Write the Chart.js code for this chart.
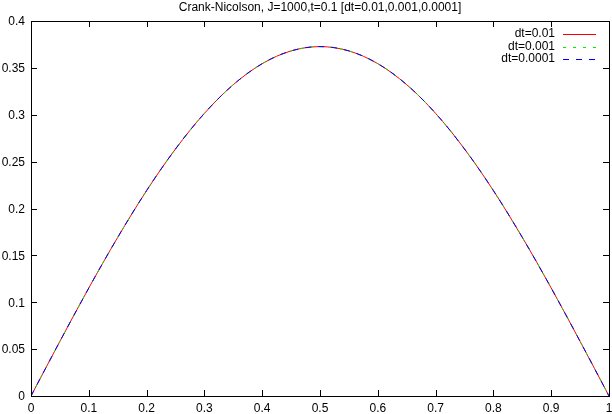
<!DOCTYPE html>
<html>
<head>
<meta charset="utf-8">
<script src="https://cdn.jsdelivr.net/npm/chart.js@4/dist/chart.umd.min.js"></script>
<style>
  html, body { margin: 0; padding: 0; background: #fff; }
  #wrap { width: 612px; height: 414px; }
</style>
</head>
<body>
<div id="wrap"><canvas id="cnChart" width="612" height="414"></canvas></div>
<script>
// --- data ---
const titleText = 'Crank-Nicolson, J=1000,t=0.1 [dt=0.01,0.001,0.0001]';
const xs = [0, 0.05, 0.1, 0.15, 0.2, 0.25, 0.3, 0.35, 0.4, 0.45, 0.5,
            0.55, 0.6, 0.65, 0.7, 0.75, 0.8, 0.85, 0.9, 0.95, 1];
const u_dt01 = [0, 0.0583, 0.1152, 0.1692, 0.2191, 0.2635, 0.3015, 0.3321, 0.3545, 0.3681, 0.3727,
                0.3681, 0.3545, 0.3321, 0.3015, 0.2635, 0.2191, 0.1692, 0.1152, 0.0583, 0];
const u_dt001 = [0, 0.0583, 0.1152, 0.1692, 0.2191, 0.2635, 0.3015, 0.3321, 0.3545, 0.3681, 0.3727,
                 0.3681, 0.3545, 0.3321, 0.3015, 0.2635, 0.2191, 0.1692, 0.1152, 0.0583, 0];
const u_dt0001 = [0, 0.0583, 0.1152, 0.1692, 0.2191, 0.2635, 0.3015, 0.3321, 0.3545, 0.3681, 0.3727,
                  0.3681, 0.3545, 0.3321, 0.3015, 0.2635, 0.2191, 0.1692, 0.1152, 0.0583, 0];
const seriesNames = ['dt=0.01', 'dt=0.001', 'dt=0.0001'];
const seriesColors = ['#ff0000', '#00ee00', '#0000ff'];
const seriesDash = [[], [3, 7], [6, 7]];
const xTicks = [0, 0.1, 0.2, 0.3, 0.4, 0.5, 0.6, 0.7, 0.8, 0.9, 1];
const yTicks = [0, 0.05, 0.1, 0.15, 0.2, 0.25, 0.3, 0.35, 0.4];

const FONT = '12px "Liberation Sans", Arial, sans-serif';
const toPts = ys => xs.map((x, i) => ({ x: x, y: ys[i] }));

// gnuplot-like frame: border, inward ticks on all sides, tick labels, title, legend
const gnuFrame = {
  id: 'gnuFrame',
  afterDatasetsDraw(chart) {
    const { ctx, chartArea: a, scales } = chart;
    const tl = 6;
    ctx.save();
    ctx.strokeStyle = '#000';
    ctx.lineWidth = 1;
    ctx.strokeRect(a.left + 0.5, a.top + 0.5, a.right - a.left, a.bottom - a.top);

    ctx.fillStyle = '#000';
    ctx.font = FONT;
    ctx.beginPath();
    xTicks.forEach(v => {
      const px = Math.round(scales.x.getPixelForValue(v)) + 0.5;
      ctx.moveTo(px, a.bottom); ctx.lineTo(px, a.bottom - tl);
      ctx.moveTo(px, a.top); ctx.lineTo(px, a.top + tl);
    });
    yTicks.forEach(v => {
      const py = Math.round(scales.y.getPixelForValue(v)) + 0.5;
      ctx.moveTo(a.left, py); ctx.lineTo(a.left + tl, py);
      ctx.moveTo(a.right, py); ctx.lineTo(a.right - tl, py);
    });
    ctx.stroke();

    ctx.textAlign = 'center';
    ctx.textBaseline = 'middle';
    xTicks.forEach(v => {
      ctx.fillText(String(v), scales.x.getPixelForValue(v), a.bottom + 13);
    });
    ctx.textAlign = 'right';
    yTicks.forEach(v => {
      ctx.fillText(String(v), a.left - 6, scales.y.getPixelForValue(v) + 1);
    });

    // title
    ctx.textAlign = 'center';
    ctx.fillText(titleText, (a.left + a.right) / 2, 8);

    // legend (top right, inside)
    seriesNames.forEach((name, i) => {
      const y = 34 + i * 12.5;
      ctx.textAlign = 'right';
      ctx.fillStyle = '#000';
      ctx.fillText(name, a.right - 54, y);
      ctx.beginPath();
      ctx.strokeStyle = seriesColors[i];
      ctx.setLineDash(seriesDash[i]);
      ctx.moveTo(a.right - 46, Math.round(y) + 0.5);
      ctx.lineTo(a.right - 13, Math.round(y) + 0.5);
      ctx.stroke();
    });
    ctx.restore();
  }
};

new Chart(document.getElementById('cnChart').getContext('2d'), {
  type: 'line',
  data: {
    // higher order is drawn first, so blue ends up on top like gnuplot
    datasets: seriesNames.map((name, i) => ({
      label: name,
      data: toPts([u_dt01, u_dt001, u_dt0001][i]),
      borderColor: seriesColors[i],
      borderDash: seriesDash[i],
      borderWidth: 1,
      order: 2 - i
    }))
  },
  options: {
    responsive: false,
    animation: false,
    cubicInterpolationMode: 'monotone',
    layout: { padding: { left: 31, right: 3, top: 21, bottom: 18 } },
    elements: { point: { radius: 0 } },
    scales: {
      x: { type: 'linear', min: 0, max: 1, display: false },
      y: { type: 'linear', min: 0, max: 0.4, display: false }
    },
    plugins: { legend: { display: false }, title: { display: false }, tooltip: { enabled: false } }
  },
  plugins: [gnuFrame]
});
</script>
</body>
</html>
